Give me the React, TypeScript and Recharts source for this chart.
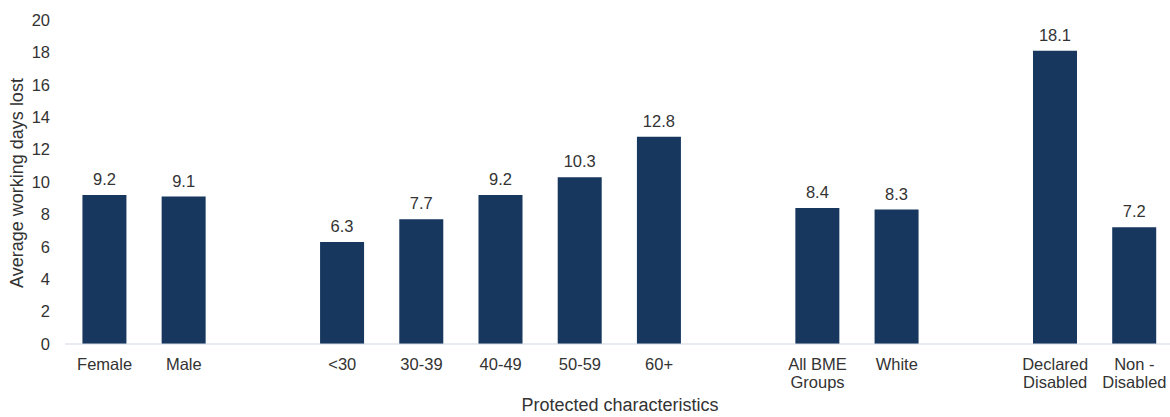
import { BarChart, Bar, XAxis, YAxis, LabelList } from "recharts";

// blank entries are spacer slots between the groups
const categories = [
  "Female",
  "Male",
  "",
  "<30",
  "30-39",
  "40-49",
  "50-59",
  "60+",
  " ",
  "All BME\nGroups",
  "White",
  "  ",
  "Declared\nDisabled",
  "Non -\nDisabled",
];

const daysLost: (number | null)[] = [
  9.2, 9.1, null, 6.3, 7.7, 9.2, 10.3, 12.8, null, 8.4, 8.3, null, 18.1, 7.2,
];

const yTicks = [0, 2, 4, 6, 8, 10, 12, 14, 16, 18, 20];

const chartData = categories.map((name, i) => ({
  name,
  value: daysLost[i],
}));

const FONT = "'Liberation Sans', Arial, sans-serif";
const TEXT = "#333333";
const BAR = "#17375E";

function CategoryTick(props: any) {
  const { x, y, payload } = props;
  const lines = String(payload.value).split("\n");
  return (
    <text
      x={x}
      y={y}
      textAnchor="middle"
      fill={TEXT}
      fontSize={16.5}
      fontFamily={FONT}
    >
      {lines.map((line, i) => (
        <tspan key={i} x={x} dy={i === 0 ? 18 : 18}>
          {line}
        </tspan>
      ))}
    </text>
  );
}

function YTitle() {
  return (
    <text
      x={17}
      y={183}
      transform="rotate(-90 17 183)"
      textAnchor="middle"
      dominantBaseline="central"
      fill={TEXT}
      fontSize={18}
      fontFamily={FONT}
    >
      Average working days lost
    </text>
  );
}

function XTitle() {
  return (
    <text
      x={620}
      y={411}
      textAnchor="middle"
      fill={TEXT}
      fontSize={18}
      fontFamily={FONT}
    >
      Protected characteristics
    </text>
  );
}

export default function App() {
  return (
    <div
      style={{
        position: "absolute",
        left: 0,
        top: 0,
        width: 1170,
        height: 417,
        overflow: "hidden",
        background: "#fff",
      }}
    >
      <BarChart
        width={1174}
        height={417}
        data={chartData}
        margin={{ top: 20, right: 0, bottom: 0, left: 0 }}
        barCategoryGap="22%"
      >
        <XAxis
          dataKey="name"
          height={73}
          tickLine={false}
          axisLine={{ stroke: "#cfd7e0" }}
          interval={0}
          tick={<CategoryTick />}
          label={<XTitle />}
        />
        <YAxis
          width={65}
          domain={[0, 20]}
          ticks={yTicks}
          axisLine={false}
          tickLine={false}
          tickMargin={9}
          tick={{ fill: TEXT, fontSize: 16.5, fontFamily: FONT }}
          label={<YTitle />}
        />
        <Bar dataKey="value" fill={BAR} isAnimationActive={false}>
          <LabelList
            dataKey="value"
            position="top"
            offset={10}
            fill={TEXT}
            fontSize={16.5}
            fontFamily={FONT}
          />
        </Bar>
      </BarChart>
    </div>
  );
}
